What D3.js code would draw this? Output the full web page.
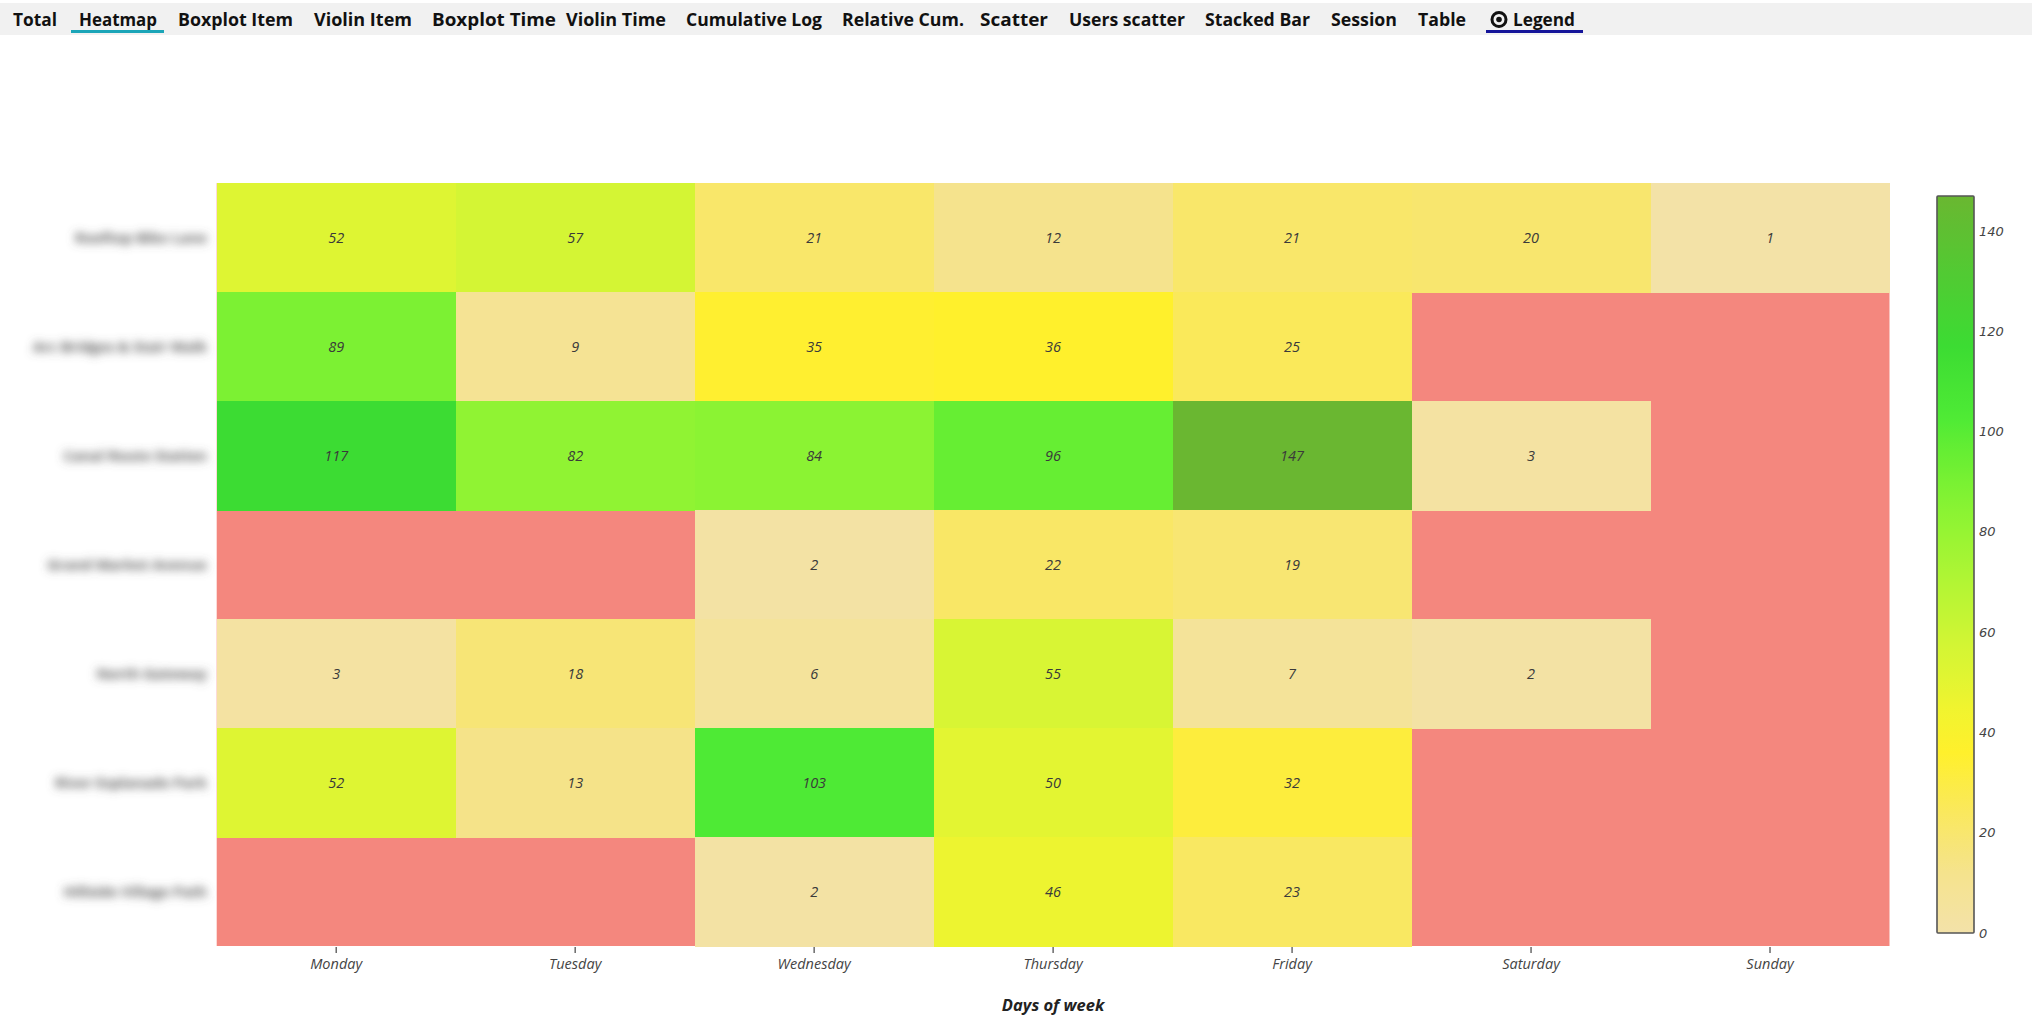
<!DOCTYPE html>
<html>
<head>
<meta charset="utf-8">
<script src="https://cdn.jsdelivr.net/npm/d3@7"></script>
<style>
  html, body { margin: 0; padding: 0; background: #fff; }
  svg { display: block; }
</style>
</head>
<body>
<svg id="chart" width="2032" height="1019"></svg>
<script>
// ---------- data ----------
const days = ["Monday", "Tuesday", "Wednesday", "Thursday", "Friday", "Saturday", "Sunday"];
// row labels are blurred in the reference; placeholders of similar length
const rowLabels = [
  "Rooftop Bike Lane",
  "Arc Bridges & Stair Walk",
  "Canal Route Station",
  "Grand Market Avenue",
  "North Gateway",
  "River Esplanade Park",
  "Hillside Village Path"
];
const row1 = [52, 57, 21, 12, 21, 20, 1];
const row2 = [89, 9, 35, 36, 25, null, null];
const row3 = [117, 82, 84, 96, 147, 3, null];
const row4 = [null, null, 2, 22, 19, null, null];
const row5 = [3, 18, 6, 55, 7, 2, null];
const row6 = [52, 13, 103, 50, 32, null, null];
const row7 = [null, null, 2, 46, 23, null, null];
const rows = [row1, row2, row3, row4, row5, row6, row7];
const colorTicks = [0, 20, 40, 60, 80, 100, 120, 140];
const valueMax = 147;

const navItems = ["Total", "Heatmap", "Boxplot Item", "Violin Item", "Boxplot Time", "Violin Time",
  "Cumulative Log", "Relative Cum.", "Scatter", "Users scatter", "Stacked Bar", "Session", "Table", "Legend"];

// ---------- layout ----------
const navLayout = [[13,57],[79,157],[178,293],[314,412],[432,556],[566,666],[686,822],[842,964],
  [980,1048],[1069,1185],[1205,1310],[1331,1397],[1418,1466],[1513,1575]];
const M = { left: 216.7, right: 1889.5, top: 183, bottom: 946 };

const svg = d3.select("#chart");
const defs = svg.append("defs");
const blur = defs.append("filter").attr("id", "blur").attr("x", "-20%").attr("y", "-120%")
  .attr("width", "140%").attr("height", "340%");
blur.append("feGaussianBlur").attr("stdDeviation", 4.6);

// ---------- nav bar ----------
svg.append("rect").attr("x", 0).attr("y", 3).attr("width", 2032).attr("height", 32).attr("fill", "#f1f1f1");
const nav = svg.append("g");
nav.selectAll("text").data(navItems).join("text")
  .attr("x", (d, i) => navLayout[i][0])
  .attr("y", 26)
  .attr("textLength", (d, i) => navLayout[i][1] - navLayout[i][0])
  .attr("lengthAdjust", "spacingAndGlyphs")
  .attr("font-family", "'Open Sans', sans-serif")
  .attr("font-weight", 700)
  .attr("font-size", 18.5)
  .attr("fill", "#111")
  .text(d => d);
// underlines
nav.append("rect").attr("x", 71).attr("y", 30).attr("width", 93).attr("height", 3).attr("fill", "#1ba5b8");
nav.append("rect").attr("x", 1486).attr("y", 30).attr("width", 97).attr("height", 3).attr("fill", "#15159a");
// eye icon
nav.append("circle").attr("cx", 1499).attr("cy", 19.5).attr("r", 7).attr("fill", "none")
  .attr("stroke", "#111").attr("stroke-width", 3);
nav.append("circle").attr("cx", 1499).attr("cy", 19.5).attr("r", 2.8).attr("fill", "#111");

// ---------- scales ----------
const x = d3.scaleBand().domain(days).range([M.left, M.right]).padding(0);
const y = d3.scaleBand().domain(rowLabels).range([M.top, M.bottom]).padding(0);
const color = d3.scaleLinear()
  .domain([0, 12, 22, 36, 45, 52, 57, 70, 85, 96, 103, 117, 130, 147])
  .range(["#f3e2a9", "#f5e38d", "#f9e766", "#fff02c", "#f0f42f", "#def533", "#d4f534", "#b2f534",
          "#88f333", "#66ee33", "#4eea35", "#3cdc33", "#4fcc33", "#6ab731"])
  .clamp(true);

// plot background (missing cells)
svg.append("rect").attr("x", M.left).attr("y", M.top)
  .attr("width", M.right - M.left).attr("height", M.bottom - M.top).attr("fill", "#f4877e");

const cells = [];
rows.forEach((r, ri) => r.forEach((v, ci) => cells.push({ row: rowLabels[ri], day: days[ci], v })));
const present = cells.filter(c => c.v !== null);

svg.append("g").attr("shape-rendering", "crispEdges").selectAll("rect").data(present).join("rect")
  .attr("x", d => x(d.day)).attr("y", d => y(d.row))
  .attr("width", x.bandwidth() + 0.6).attr("height", y.bandwidth() + 0.6)
  .attr("fill", d => color(d.v));

svg.append("g").selectAll("text").data(present).join("text")
  .attr("x", d => x(d.day) + x.bandwidth() / 2)
  .attr("y", d => y(d.row) + y.bandwidth() / 2)
  .attr("dy", "0.35em")
  .attr("text-anchor", "middle")
  .attr("font-family", "'Open Sans', sans-serif")
  .attr("font-style", "italic")
  .attr("font-size", 14.5)
  .attr("fill", "#3a3a3a")
  .text(d => d.v);

// ---------- x axis ----------
const xAxis = svg.append("g").attr("transform", `translate(0,${M.bottom})`)
  .call(d3.axisBottom(x).tickSize(7).tickPadding(6));
xAxis.select(".domain").remove();
xAxis.selectAll(".tick line").attr("stroke", "#444").attr("stroke-width", 1.2).attr("y1", 1);
xAxis.selectAll(".tick text")
  .attr("font-family", "'Open Sans', sans-serif")
  .attr("font-style", "italic")
  .attr("font-size", 14.5)
  .attr("fill", "#444");

svg.append("text")
  .attr("x", (M.left + M.right) / 2).attr("y", 1005).attr("dy", "0.35em")
  .attr("text-anchor", "middle")
  .attr("font-family", "'Open Sans', sans-serif")
  .attr("font-style", "italic").attr("font-weight", 700)
  .attr("font-size", 16.5).attr("fill", "#222")
  .text("Days of week");

// ---------- y labels (blurred in reference) ----------
svg.append("g").selectAll("text").data(rowLabels).join("text")
  .attr("x", 207)
  .attr("y", d => y(d) + y.bandwidth() / 2)
  .attr("dy", "0.35em")
  .attr("text-anchor", "end")
  .attr("font-family", "'Open Sans', sans-serif")
  .attr("font-weight", 700)
  .attr("font-size", 14.5)
  .attr("fill", "#5a5a5a")
  .attr("filter", "url(#blur)")
  .text(d => d);

// ---------- colorbar ----------
const cb = { x: 1937, w: 37, top: 196, bottom: 933 };
const cy = d3.scaleLinear().domain([0, valueMax]).range([cb.bottom, cb.top]);
const grad = defs.append("linearGradient").attr("id", "cbgrad")
  .attr("x1", 0).attr("y1", 1).attr("x2", 0).attr("y2", 0);
d3.range(0, valueMax + 1, 3).concat([valueMax]).forEach(v => {
  grad.append("stop").attr("offset", v / valueMax).attr("stop-color", color(v));
});
svg.append("rect").attr("x", cb.x).attr("y", cb.top).attr("width", cb.w)
  .attr("height", cb.bottom - cb.top).attr("fill", "url(#cbgrad)")
  .attr("stroke", "#555").attr("stroke-width", 1.6).attr("rx", 1);

svg.append("g").selectAll("text").data(colorTicks).join("text")
  .attr("x", cb.x + cb.w + 5)
  .attr("y", d => cy(d))
  .attr("dy", "0.35em")
  .attr("font-family", "'DejaVu Sans', Verdana, sans-serif")
  .attr("font-style", "italic")
  .attr("font-size", 13)
  .attr("fill", "#444")
  .text(d => d);
</script>
</body>
</html>
